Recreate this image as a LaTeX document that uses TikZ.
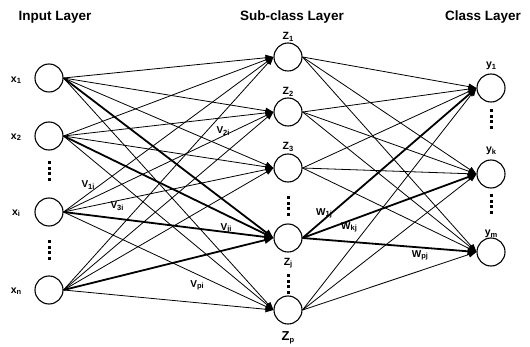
\documentclass[tikz,border=0pt]{standalone}
\usepackage{fontspec}
\setmainfont{Liberation Sans}
\usetikzlibrary{arrows.meta}
\newcommand\sbs[1]{\raisebox{-0.25ex}{\fontsize{7.5}{8}\selectfont\bfseries #1}}
\begin{document}
\begin{tikzpicture}[x=1pt,y=-1pt,
  neuron/.style={circle,draw,line width=1.1pt,minimum size=28pt,inner sep=0pt},
  conn/.style={line width=0.8pt,-{Triangle[length=8pt,width=6pt]}},
  thickconn/.style={line width=1.8pt,-{Triangle[length=9pt,width=7pt]}},
  title/.style={font=\fontsize{13.5}{15}\selectfont\bfseries},
  lab/.style={font=\fontsize{10.5}{12}\selectfont\bfseries},
  wlab/.style={font=\fontsize{10}{11}\selectfont\bfseries},
  dotsq/.style={fill=black,minimum width=3pt,minimum height=3pt,inner sep=0pt}]
\useasboundingbox (0,0) rectangle (530,347);
% titles
\node[title] (t1) at (55,17) {Input Layer};
\node[title] (t2) at (292,17) {Sub-class Layer};
\node[title] (t3) at (483,17) {Class Layer};
% input
\node[neuron] (x1) at (49,78) {};
\node[neuron] (x2) at (49,136) {};
\node[neuron] (xi) at (49,212) {};
\node[neuron] (xn) at (49,290) {};
\node[lab] (lx1) at (16,80) {x\sbs{1}};
\node[lab] (lx2) at (16,137) {x\sbs{2}};
\node[lab] (lxi) at (16,213) {x\sbs{i}};
\node[lab] (lxn) at (16,291) {x\sbs{n}};
% subclass
\node[neuron] (z1) at (288,57) {};
\node[neuron] (z2) at (288,112) {};
\node[neuron] (z3) at (288,168) {};
\node[neuron] (zj) at (288,238) {};
\node[neuron] (zp) at (288,310) {};
\node[lab] (lz1) at (288,37) {Z\sbs{1}};
\node[lab] (lz2) at (288,92) {Z\sbs{2}};
\node[lab] (lz3) at (288,147) {Z\sbs{3}};
\node[lab] (lzj) at (288,263) {Z\sbs{j}};
\node[lab,font=\fontsize{13}{14}\selectfont\bfseries] (lzp) at (288,338) {Z\sbs{p}};
% class
\node[neuron] (y1) at (491,88) {};
\node[neuron] (yk) at (491,174) {};
\node[neuron] (ym) at (491,252) {};
\node[lab] (ly1) at (491,66) {y\sbs{1}};
\node[lab] (lyk) at (491,151) {y\sbs{k}};
\node[lab] (lym) at (491,234) {y\sbs{m}};
% dots
\foreach \px/\py/\nm in {49/163/a,49/242/b,288/198/c,288/276/d,491/111/e,491/196/f}{
  \foreach \k in {0,1,2,3}{
    \node[dotsq] (d\nm\k) at (\px,\py+\k*5.5) {};
  }
}
% input to subclass
\foreach \s in {x1,x2,xi,xn}{
  \foreach \t in {z1,z2,z3,zp}{
    \draw[conn] (\s.east) -- (\t.west);
  }
  \draw[thickconn] (\s.east) -- (zj.west);
}
% subclass to class
\foreach \s in {z1,z2,z3,zp}{
  \foreach \t in {y1,yk,ym}{
    \draw[conn] (\s.east) -- (\t.west);
  }
}
\foreach \t in {y1,yk,ym}{
  \draw[thickconn] (zj.east) -- (\t.west);
}
% weight labels
\node[wlab] (v1i) at (88,185) {V\sbs{1i}};
\node[wlab] (v2i) at (223,131) {V\sbs{2i}};
\node[wlab] (v3i) at (117,206) {V\sbs{3i}};
\node[wlab] (vji) at (226,228) {V\sbs{ji}};
\node[wlab] (vpi) at (197,285) {V\sbs{pi}};
\node[wlab] (w1j) at (324,213) {W\sbs{1j}};
\node[wlab] (wkj) at (349,227) {W\sbs{kj}};
\node[wlab] (wpj) at (420,255) {W\sbs{pj}};
\end{tikzpicture}
\end{document}
